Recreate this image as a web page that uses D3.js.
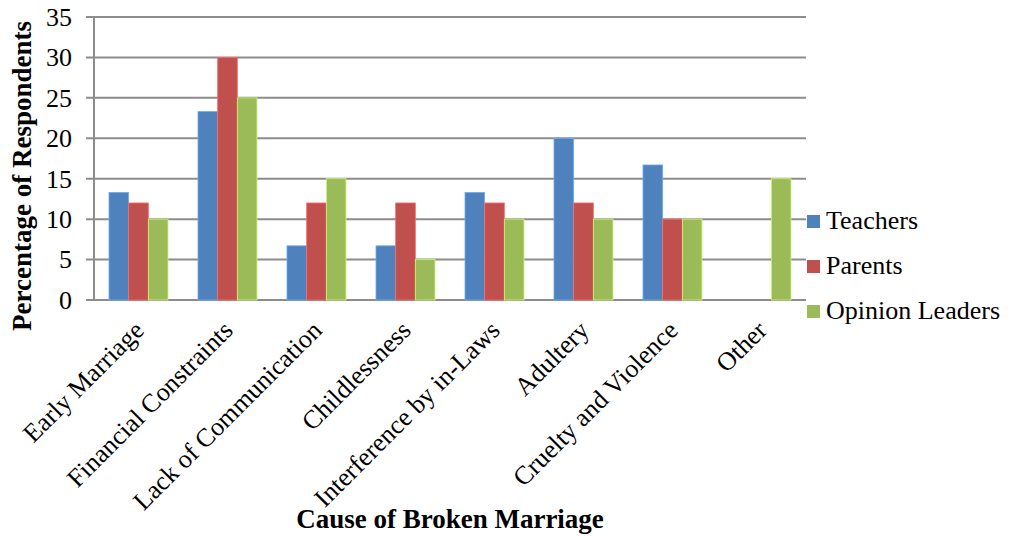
<!DOCTYPE html>
<html>
<head>
<meta charset="utf-8">
<script src="https://cdn.jsdelivr.net/npm/d3@7"></script>
<style>
  body { margin: 0; background: #fff; }
</style>
</head>
<body>
<div id="chart"></div>
<script>
'use strict';
var causes = ['Early Marriage', 'Financial Constraints', 'Lack of Communication', 'Childlessness',
  'Interference by in-Laws', 'Adultery', 'Cruelty and Violence', 'Other'];
var seriesNames = ['Teachers', 'Parents', 'Opinion Leaders'];
var teachers = [13.3, 23.3, 6.7, 6.7, 13.3, 20, 16.7, 0];
var parents = [12, 30, 12, 12, 12, 12, 10, 0];
var opinionLeaders = [10, 25, 15, 5, 10, 10, 10, 15];
var yTicks = [0, 5, 10, 15, 20, 25, 30, 35];
var colors = ['#4F81BD', '#C0504D', '#9BBB59'];

var FONT = 'Liberation Serif';

var W = 1013, H = 536;
var margin = {top: 17, right: 207, bottom: 236, left: 94},
  width = W - margin.left - margin.right,
  height = H - margin.top - margin.bottom;

var svg = d3.select('#chart').append('svg')
  .attr('width', W)
  .attr('height', H)
  .style('font-family', FONT);

var g = svg.append('g')
  .attr('transform', 'translate(' + margin.left + ',' + margin.top + ')');

var x = d3.scaleBand().domain(causes).range([0, width]).paddingInner(0.337).paddingOuter(0.1685);
var x1 = d3.scaleBand().domain(seriesNames).range([0, x.bandwidth()]);
var y = d3.scaleLinear().domain([0, 35]).range([height, 0]);

// gridlines with small ticks to the left
g.append('g')
  .selectAll('line')
  .data(yTicks)
  .enter().append('line')
  .attr('x1', -8)
  .attr('x2', width)
  .attr('y1', function(d) { return y(d); })
  .attr('y2', function(d) { return y(d); })
  .attr('stroke', '#8c8c8c')
  .attr('stroke-width', 2);

g.append('line')
  .attr('x1', 0).attr('x2', 0)
  .attr('y1', 0).attr('y2', height)
  .attr('stroke', '#8c8c8c')
  .attr('stroke-width', 2);

// y tick labels
g.append('g')
  .selectAll('text')
  .data(yTicks)
  .enter().append('text')
  .attr('x', -22)
  .attr('y', function(d) { return y(d); })
  .attr('dy', '0.34em')
  .attr('text-anchor', 'end')
  .style('font-family', FONT)
  .style('font-size', '26px')
  .text(function(d) { return d; });

// bars
var series = [teachers, parents, opinionLeaders];
series.forEach(function(vals, si) {
  g.append('g')
    .selectAll('rect')
    .data(vals)
    .enter().append('rect')
    .attr('x', function(d, i) { return x(causes[i]) + x1(seriesNames[si]); })
    .attr('width', x1.bandwidth())
    .attr('y', function(d) { return y(d); })
    .attr('height', function(d) { return height - y(d); })
    .attr('fill', colors[si])
    .attr('stroke', d3.color(colors[si]).brighter(0.8))
    .attr('stroke-width', 0.8)
    .attr('display', function(d) { return d > 0 ? null : 'none'; });
});

// x labels
g.append('g')
  .selectAll('text')
  .data(causes)
  .enter().append('text')
  .attr('transform', function(d) {
    return 'translate(' + (x(d) + x.bandwidth() / 2 - 6) + ',' + (height + 19) + ') rotate(-45)';
  })
  .attr('text-anchor', 'end')
  .attr('dy', '0.7em')
  .style('font-family', FONT)
  .style('font-size', '26px')
  .text(function(d) { return d; });

// axis titles
svg.append('text')
  .attr('x', margin.left + width / 2)
  .attr('y', 528)
  .attr('text-anchor', 'middle')
  .style('font-family', FONT)
  .style('font-size', '27px')
  .style('font-weight', 'bold')
  .text('Cause of Broken Marriage');

svg.append('text')
  .attr('transform', 'translate(31,176) rotate(-90)')
  .attr('text-anchor', 'middle')
  .style('font-family', FONT)
  .style('font-size', '27px')
  .style('font-weight', 'bold')
  .text('Percentage of Respondents');

// legend
var legend = svg.append('g')
  .attr('transform', 'translate(807,215)');
seriesNames.forEach(function(name, i) {
  legend.append('rect')
    .attr('x', 0)
    .attr('y', i * 45)
    .attr('width', 13)
    .attr('height', 13)
    .attr('fill', colors[i]);
  legend.append('text')
    .attr('x', 19)
    .attr('y', i * 45 + 14)
    .style('font-family', FONT)
    .style('font-size', '26px')
    .text(name);
});
</script>
</body>
</html>
